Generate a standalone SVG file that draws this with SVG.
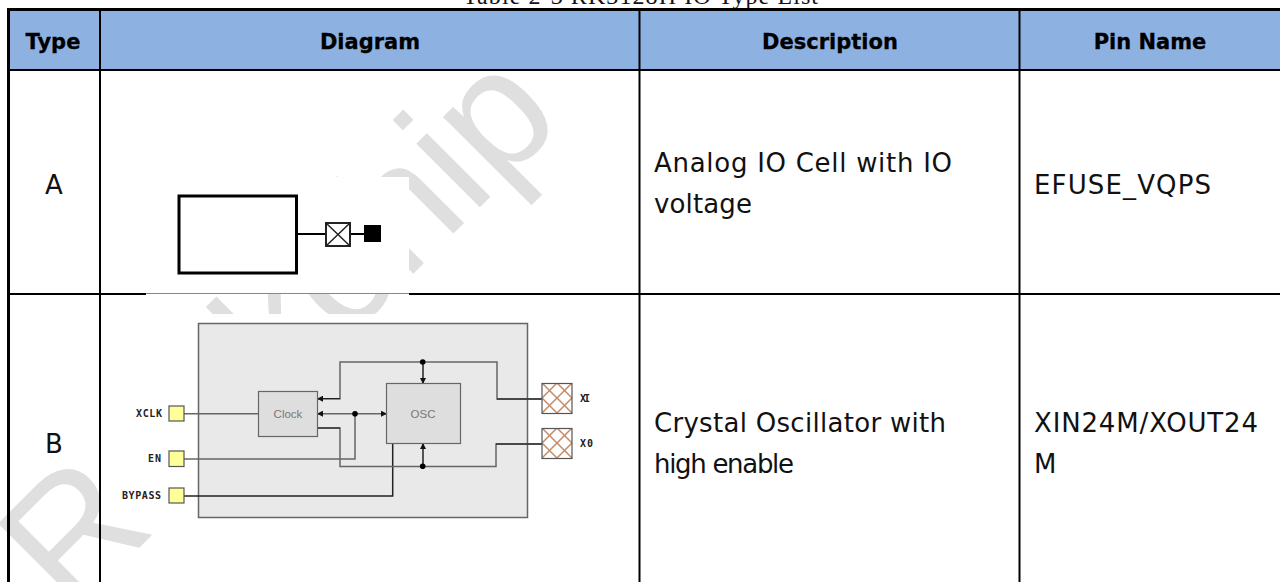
<svg xmlns="http://www.w3.org/2000/svg" width="1280" height="582" viewBox="0 0 1280 582">
<defs>
<style>
.grid{stroke:#000;fill:none}
.h{font:bold 21px Verdana,"DejaVu Sans",sans-serif;fill:#000;stroke:#000;stroke-width:.3;text-anchor:middle}
.t{font:26px "DejaVu Sans",sans-serif;fill:#111}
.c{font:26px "DejaVu Sans",sans-serif;fill:#111;text-anchor:middle}
.wm{font:170px "Liberation Sans",sans-serif;fill:#dfdfdf}
.w{stroke:#666;stroke-width:1.5;fill:none}
.d{stroke:#222;stroke-width:1.5;fill:none}
.pad{fill:#ffff99;stroke:#555;stroke-width:1.2}
.lab{font:bold 10px "DejaVu Sans Mono",monospace;fill:#222}
.b{font:11.5px "Liberation Sans",sans-serif;fill:#777;text-anchor:middle}
.xp{stroke:#555;stroke-width:1.2}
</style>
<marker id="a" markerWidth="6" markerHeight="6" refX="5" refY="3" orient="auto-start-reverse" markerUnits="userSpaceOnUse"><path d="M0 0L6 3L0 6Z" fill="#111"/></marker>
<pattern id="mesh" width="15" height="15" patternUnits="userSpaceOnUse" x="542" y="383"><rect width="15" height="15" fill="#fff"/><path d="M0 0L15 15M15 0L0 15" stroke="#c58a66" stroke-width="1.500"/></pattern>
</defs>
<rect width="1280" height="582" fill="#fff"/>
<text class="wm" transform="translate(71 616) rotate(-45)">Rockchip</text>
<text x="463" y="4" font-family="'Liberation Serif',serif" font-size="24" textLength="355" fill="#111">Table 2-3 RK3128H IO Type List</text>
<rect x="9" y="10" width="1271" height="60" fill="#8db2e2"/>
<rect x="146" y="177" width="263" height="116" fill="#fff"/>
<rect x="113" y="314" width="482" height="211" fill="#fff"/>
<g id="table">
<path class="grid" stroke-width="3" d="M7 9.500H1280M8.500 8V582"/>
<path class="grid" stroke-width="2" d="M8 70H1280M8 294H146M409 294H1280M100 10V582M639.500 10V582M1019.500 10V582"/>
<path stroke="#888" d="M146 293.500H409" fill="none"/>
</g>
<text class="h" x="53" y="49">Type</text><text class="h" x="370" y="49">Diagram</text><text class="h" x="830" y="49">Description</text><text class="h" x="1150" y="49">Pin Name</text>
<text class="c" x="54" y="194">A</text><text class="c" x="54" y="453">B</text>
<text class="t" x="654" y="172" textLength="298">Analog IO Cell with IO</text><text class="t" x="654" y="213" textLength="98">voltage</text>
<text class="t" x="1034" y="194" textLength="177">EFUSE_VQPS</text>
<text class="t" x="654" y="432" textLength="292">Crystal Oscillator with</text><text class="t" x="654" y="473" textLength="140">high enable</text>
<text class="t" x="1034" y="432" textLength="224">XIN24M/XOUT24</text><text class="t" x="1034" y="473">M</text>
<g id="node-a">
<rect x="179" y="196" width="117.500" height="77" fill="#fff" stroke="#000" stroke-width="3"/>
<path d="M297 234H326M350 234H364" stroke="#000" stroke-width="2"/>
<rect x="326" y="223" width="24" height="23" fill="#fff" stroke="#222" stroke-width="2"/>
<path d="M326 223L350 246M350 223L326 246" stroke="#222" stroke-width="1.500"/>
<rect x="364" y="225" width="17" height="17" fill="#000"/>
</g>
<g id="node-b-box"><rect x="198.500" y="323.500" width="329" height="194" fill="#e9e9e9" stroke="#666" stroke-width="1.500"/></g>
<g id="connectors">
<path class="w" d="M184 413.700H258M184 459H355V413.700"/>
<path class="d" d="M184 496H392.700V444"/>
<path class="w" d="M318 398.700H340V362H497V399H542"/>
<path class="w" d="M318 428H340V466.500H496V444H542"/>
<path class="w" marker-start="url(#a)" marker-end="url(#a)" d="M318 413.700H386"/>
<path class="d" marker-end="url(#a)" d="M423 362V383"/>
<path class="d" marker-end="url(#a)" d="M423 466V444"/>
<path d="M318 398.700H340M318 428H340" stroke="#111" marker-start="url(#a)" fill="none"/>
<path d="M497 399H542M496 444H542" stroke="#333" stroke-width="1.500" fill="none"/>
<circle cx="355" cy="413.700" r="2.800" fill="#000"/><circle cx="422.700" cy="362" r="2.800" fill="#000"/><circle cx="422.700" cy="466.300" r="2.800" fill="#000"/>
</g>
<g id="clock"><rect x="258.500" y="391.500" width="59" height="45" fill="#dedede" stroke="#666" stroke-width="1.200"/><text class="b" x="288" y="418">Clock</text></g>
<g id="osc"><rect x="386.500" y="383.500" width="74" height="60" fill="#dedede" stroke="#666" stroke-width="1.200"/><text class="b" x="423" y="418">OSC</text></g>
<g id="pad-xclk"><rect x="169" y="406" width="15" height="15" class="pad"/><text class="lab" x="136" y="417" textLength="26">XCLK</text></g>
<g id="pad-en"><rect x="169" y="451" width="15" height="15.500" class="pad"/><text class="lab" x="148" y="462" textLength="13">EN</text></g>
<g id="pad-bypass"><rect x="169" y="488" width="15" height="15" class="pad"/><text class="lab" x="122" y="499" textLength="39">BYPASS</text></g>
<g id="pad-xi"><rect x="542" y="383.500" width="30" height="30" class="xp" fill="url(#mesh)"/><text class="lab" x="580" y="402" textLength="10">XI</text></g>
<g id="pad-xo"><rect x="542" y="428.500" width="30" height="30" class="xp" fill="url(#mesh)"/><text class="lab" x="580" y="447" textLength="13">X0</text></g>
</svg>
